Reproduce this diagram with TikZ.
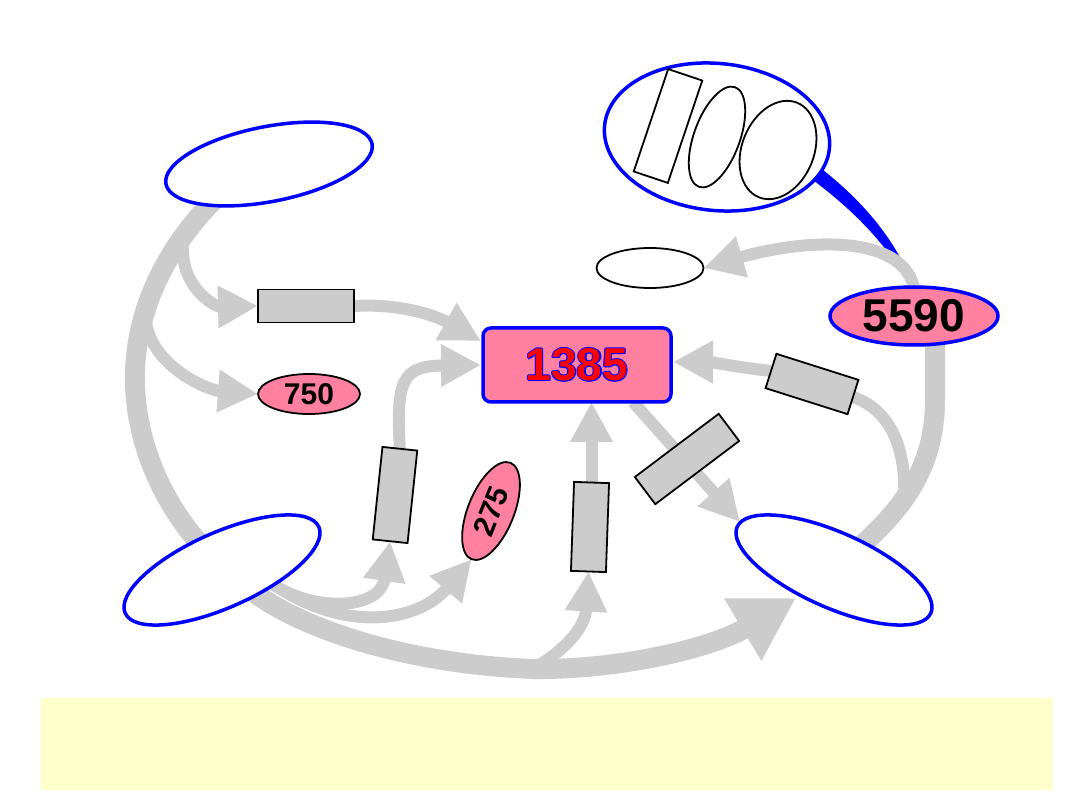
\documentclass[tikz,border=0pt]{standalone}
\usepackage{fontspec}
\setmainfont{Liberation Sans}
\usetikzlibrary{shapes.geometric,arrows.meta,backgrounds,calc}
\definecolor{gry}{RGB}{204,204,204}
\definecolor{pnk}{RGB}{255,128,160}
\definecolor{yel}{RGB}{255,255,204}
\newcommand{\outltext}[1]{%
  \leavevmode
  \rlap{\color{blue}\kern-1.1pt#1}%
  \rlap{\color{blue}\kern1.1pt#1}%
  \rlap{\color{blue}\raisebox{1.1pt}{#1}}%
  \rlap{\color{blue}\raisebox{-1.1pt}{#1}}%
  \rlap{\color{blue}\kern-0.8pt\raisebox{0.8pt}{#1}}%
  \rlap{\color{blue}\kern0.8pt\raisebox{0.8pt}{#1}}%
  \rlap{\color{blue}\kern-0.8pt\raisebox{-0.8pt}{#1}}%
  \rlap{\color{blue}\kern0.8pt\raisebox{-0.8pt}{#1}}%
  {\color{red}#1}}
\tikzset{
  blueell/.style={ellipse, draw=blue, line width=3.5pt, fill=white, inner sep=0pt, outer sep=0pt},
  blkell/.style={ellipse, draw=black, line width=1.8pt, fill=white, inner sep=0pt, outer sep=0pt},
  pinkell/.style={ellipse, draw=black, line width=1.8pt, fill=pnk, inner sep=0pt, outer sep=0pt,
    font=\bfseries\fontsize{30}{30}\selectfont},
  grect/.style={rectangle, draw=black, line width=1.8pt, fill=gry, inner sep=0pt, outer sep=0pt},
  wrect/.style={rectangle, draw=black, line width=1.8pt, fill=white, inner sep=0pt, outer sep=0pt},
  flow/.style={draw=gry, line width=12pt},
  flowthick/.style={draw=gry, line width=20pt},
  arr/.style={-{Triangle[length=40pt,width=40pt]}},
  bigarr/.style={-{Triangle[length=62pt,width=68pt]}}
}
\begin{document}
\begin{tikzpicture}[x=1pt,y=-1pt]
\useasboundingbox (0,0) rectangle (1080,810);
% nodes
\node[blueell, minimum width=210pt, minimum height=75pt, rotate=11] (tl) at (269,164) {};
\node[blueell, minimum width=212pt, minimum height=75pt, rotate=24] (bl) at (222,570) {};
\node[blueell, minimum width=212pt, minimum height=75pt, rotate=-24] (br) at (834,570) {};
\node[blueell, minimum width=226pt, minimum height=147pt, rotate=-6] (big) at (717,137) {};
\node[wrect, minimum width=36pt, minimum height=108pt, rotate=-18.6] (ir) at (668,126) {};
\node[blkell, minimum width=46pt, minimum height=106pt, rotate=-20] (ie1) at (717,137) {};
\node[blkell, minimum width=72pt, minimum height=102pt, rotate=-22] (ie2) at (778,150) {};
\node[blkell, minimum width=107pt, minimum height=40pt] (se) at (650,268) {};
\node[pinkell, draw=blue, line width=3.5pt, minimum width=168pt, minimum height=58pt,
  font=\bfseries\fontsize{46}{46}\selectfont] (n5590) at (914,316) {5590};
\node[rectangle, rounded corners=8pt, draw=blue, line width=3.5pt, fill=pnk,
  minimum width=188pt, minimum height=74pt, inner sep=0pt, outer sep=0pt,
  font=\bfseries\fontsize{46}{46}\selectfont] (c1385) at (577,365) {\outltext{1385}};
\node[grect, minimum width=96pt, minimum height=33pt] (g1) at (306,306) {};
\node[pinkell, minimum width=102pt, minimum height=40pt] (n750) at (309,394) {750};
\node[grect, minimum width=35pt, minimum height=93pt, rotate=-6] (gt) at (395,495) {};
\node[pinkell, minimum width=104pt, minimum height=46pt, rotate=68] (n275) at (491,511) {275};
\node[grect, minimum width=35pt, minimum height=89pt, rotate=-2] (gv) at (590,527) {};
\node[grect, minimum width=105pt, minimum height=34pt, rotate=37] (gd) at (687,459) {};
\node[grect, minimum width=86pt, minimum height=36pt, rotate=-17.6] (gr) at (812,384) {};
\node[fill=yel, minimum width=1012pt, minimum height=92pt, inner sep=0pt] (yb) at (547,744) {};
% junction coordinates
\coordinate (j2) at (533,669);
\coordinate (t1) at (796,598);
\coordinate (t7) at (740,522);
\coordinate (b1) at (184,237);
\coordinate (b2) at (146,308);
\coordinate (j3) at (904,500);
\begin{pgfonlayer}{background}
% blue wedge
\fill[blue] (818,166) .. controls (862,200) and (897,240) .. (916,292) -- (911,292)
  .. controls (893,250) and (856,212) .. (809,177) -- cycle;
% main loop
\draw[flowthick, bigarr] (tl.center) -- (214,200) .. controls (160,255) and (133,320) .. (135,385)
  .. controls (137,450) and (170,540) .. (268,602)
  .. controls (330,640) and (430,665) .. (j2)
  .. controls (620,670) and (712,648) .. (t1);
% right side
\draw[flowthick] (br.center) -- (862,545) .. controls (900,510) and (935,470) .. (935,400)
  -- ($(n5590.center)+(21,10)$);
\draw[flow] (gr.east) .. controls (885,408) and (907,440) .. (j3);
% branches
\draw[flow, arr] (b1) .. controls (176,285) and (215,307) .. (g1.west);
\draw[flow, arr] (b2) .. controls (140,360) and (205,390) .. (n750.west);
\draw[flow, arr] (g1.east) .. controls (405,303) and (440,318) .. ($(c1385.west)+(-2,-24)$);
\draw[flow, arr] (gt.north) .. controls (396,380) and (402,366) .. ($(c1385.west)+(-2,0)$);
\draw[flow, arr] (gv.north) -- (gv.north |- c1385.south);
\draw[flow, arr] ($(c1385.south)+(56,0)$) -- (t7);
\draw[flow, arr] (gr.west) .. controls (735,367) and (712,362) .. ($(c1385.east)+(2,-3)$);
\draw[flow, arr] (n5590.north) .. controls (900,232) and (800,240) .. (se.east);
\draw[flow, arr] (bl.-40) .. controls (315,612) and (380,610) .. (gt.south);
\draw[flow, arr] (bl.-40) .. controls (350,635) and (420,620) .. (n275.west);
\draw[flow, arr] (j2) .. controls (565,650) and (585,628) .. (gv.south);
\end{pgfonlayer}
\end{tikzpicture}
\end{document}
